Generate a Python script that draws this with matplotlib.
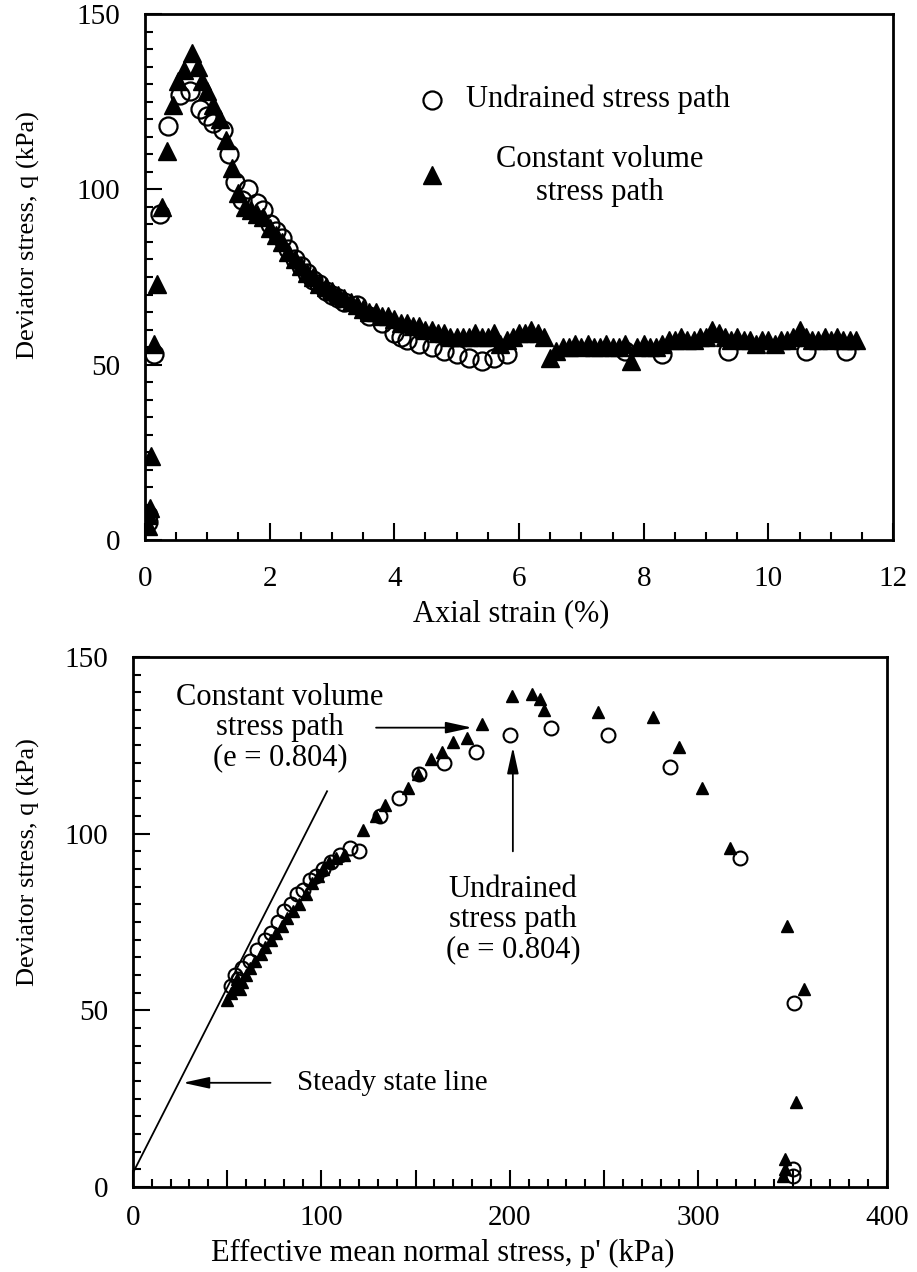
import matplotlib
matplotlib.use("Agg")
import matplotlib.pyplot as plt
from matplotlib.ticker import MultipleLocator, FuncFormatter

plt.rcParams['font.family'] = ['Liberation Serif', 'DejaVu Serif']

# --- top: q vs axial strain ---
eps_cv = [0.05, 0.05, 0.08, 0.1, 0.15, 0.2, 0.27, 0.35, 0.45, 0.53, 0.62, 0.75, 0.85, 0.92,
          1.0, 1.1, 1.2, 1.3, 1.4, 1.5, 1.6, 1.7, 1.8, 1.9, 2.0, 2.1, 2.2, 2.3, 2.4, 2.5,
          2.6, 2.7, 2.8, 2.9, 3.0, 3.1, 3.2, 3.3, 3.4, 3.5, 3.6, 3.7, 3.8, 3.9, 4.0, 4.1,
          4.2, 4.3, 4.4, 4.5, 4.6, 4.7, 4.8, 4.9, 5.0, 5.1, 5.2, 5.3, 5.4, 5.5, 5.6, 5.7,
          5.8, 5.9, 6.0, 6.1, 6.2, 6.3, 6.4, 6.5, 6.6, 6.7, 6.8, 6.9, 7.0, 7.1, 7.2, 7.3,
          7.4, 7.5, 7.6, 7.7, 7.8, 7.9, 8.0, 8.1, 8.2, 8.3, 8.4, 8.5, 8.6, 8.7, 8.8, 8.9,
          9.0, 9.1, 9.2, 9.3, 9.4, 9.5, 9.6, 9.7, 9.8, 9.9, 10.0, 10.1, 10.2, 10.3, 10.4,
          10.5, 10.6, 10.7, 10.8, 10.9, 11.0, 11.1, 11.2, 11.3, 11.4]
q_cv = [4, 7, 9, 24, 56, 73, 95, 111, 124, 131, 134, 139, 135, 131,
        128, 124, 120, 114, 106, 99, 95, 94, 93, 92, 89, 87, 85, 82, 80, 78,
        76, 75, 73, 72, 71, 70, 69, 68, 67, 66, 65, 65, 64, 64, 63, 62,
        62, 61, 61, 60, 60, 59, 59, 58, 58, 58, 58, 59, 58, 58, 59, 56,
        57, 58, 59, 59, 60, 59, 58, 52, 54, 55, 55, 56, 55, 56, 55, 55,
        56, 55, 55, 56, 51, 55, 56, 55, 55, 56, 57, 57, 58, 57, 57, 58,
        58, 60, 59, 58, 57, 58, 57, 57, 56, 57, 57, 56, 57, 57, 58,
        60, 58, 57, 57, 58, 57, 58, 57, 57, 57]

eps_ud = [0.05, 0.05, 0.15, 0.25, 0.37, 0.56, 0.72, 0.88, 1.0, 1.1, 1.25, 1.35, 1.45, 1.55,
          1.65, 1.8, 1.9, 2.0, 2.1, 2.2, 2.3, 2.4, 2.5, 2.6, 2.7, 2.8, 2.9, 3.0, 3.1, 3.2,
          3.4, 3.6, 3.8, 4.0, 4.1, 4.2, 4.4, 4.6, 4.8, 5.0, 5.2, 5.4, 5.6, 5.8, 7.7, 8.3,
          9.35, 10.6, 11.25]
q_ud = [5, 7, 53, 93, 118, 127, 128, 123, 121, 119, 117, 110, 102, 97,
        100, 96, 94, 90, 88, 86, 83, 80, 78, 76, 74, 73, 71, 70, 69, 68,
        67, 64, 62, 59, 58, 57, 56, 55, 54, 53, 52, 51, 52, 53, 54, 53,
        54, 54, 54]

# --- bottom: q vs p' ---
p_cv = [50, 52, 54, 55, 57, 58, 60, 62, 65, 68, 70, 73, 76, 79, 82, 85, 88, 92, 95, 98,
        101, 104, 108, 112, 122, 129, 134, 146, 151, 158, 164, 170, 177, 185, 201, 212,
        216, 218, 247, 276, 290, 302, 317, 347, 356, 352, 346, 346, 345]
q_cv2 = [53, 55, 57, 59, 56, 58, 60, 62, 64, 66, 68, 70, 72, 74, 76, 78, 80, 83, 86, 88,
         90, 92, 93, 94, 101, 105, 108, 113, 117, 121, 123, 126, 127, 131, 139, 139.5,
         138, 135, 134.5, 133, 124.5, 113, 96, 74, 56, 24, 8, 5, 3]

p_ud = [52, 54, 56, 58, 62, 66, 70, 73, 77, 80, 84, 87, 90, 94, 97, 101, 105, 110, 115,
        120, 131, 141, 152, 165, 182, 200, 222, 252, 285, 322, 351, 350, 350]
q_ud2 = [57, 60, 59, 62, 64, 67, 70, 72, 75, 78, 80, 83, 84, 87, 88, 90, 92, 94, 96,
         95, 105, 110, 117, 120, 123, 128, 130, 128, 119, 93, 52, 5, 3]

ssl_p = [0, 103]
ssl_q = [4, 112]

fig = plt.figure(figsize=(9.17, 12.72), dpi=100)
ax1 = fig.add_axes([0.158, 0.5755, 0.816, 0.4135])
ax2 = fig.add_axes([0.145, 0.0668, 0.822, 0.4167])

ax1.plot(eps_cv, q_cv, '^', ms=13, color='black', ls='none')
ax1.plot(eps_ud, q_ud, 'o', ms=13, mfc='none', mec='black', mew=1.6, ls='none')
ax1.set_xlim(0, 12)
ax1.set_ylim(0, 150)
ax1.xaxis.set_major_locator(MultipleLocator(2))
ax1.xaxis.set_minor_locator(MultipleLocator(0.5))
ax1.yaxis.set_major_locator(MultipleLocator(50))
ax1.yaxis.set_minor_locator(MultipleLocator(5))
ax1.set_xlabel('Axial strain (%)', fontsize=22)
ax1.set_ylabel('Deviator stress, q (kPa)', fontsize=19)
ax1.xaxis.set_label_coords(0.49, -0.112)
ax1.yaxis.set_label_coords(-0.14, 0.58)

# legend
ax1.plot([0.384], [0.837], 'o', ms=13, mfc='none', mec='black', mew=1.6, transform=ax1.transAxes)
ax1.plot([0.384], [0.694], '^', ms=13, color='black', transform=ax1.transAxes)
ax1.text(0.429, 0.837, 'Undrained stress path', fontsize=22, va='center', ha='left',
         transform=ax1.transAxes)
ax1.text(0.608, 0.692, 'Constant volume\nstress path', fontsize=22, va='center', ha='center',
         multialignment='center', transform=ax1.transAxes)

ax2.plot(ssl_p, ssl_q, color='black', lw=1.3)
ax2.plot(p_cv, q_cv2, '^', ms=9, color='black', ls='none')
ax2.plot(p_ud, q_ud2, 'o', ms=10, mfc='none', mec='black', mew=1.5, ls='none')
ax2.set_xlim(0, 400)
ax2.set_ylim(0, 150)
ax2.xaxis.set_major_locator(MultipleLocator(50))
ax2.xaxis.set_minor_locator(MultipleLocator(10))
ax2.xaxis.set_major_formatter(FuncFormatter(lambda v, pos: '%d' % v if v % 100 == 0 else ''))
ax2.yaxis.set_major_locator(MultipleLocator(50))
ax2.yaxis.set_minor_locator(MultipleLocator(5))
ax2.set_xlabel("Effective mean normal stress, p' (kPa)", fontsize=22)
ax2.set_ylabel('Deviator stress, q (kPa)', fontsize=19)
ax2.xaxis.set_label_coords(0.411, -0.097)
ax2.yaxis.set_label_coords(-0.123, 0.613)

arrow = dict(arrowstyle='-|>,head_length=1.6,head_width=0.35', color='black', lw=1.3,
             shrinkA=0, shrinkB=0)
ax2.annotate('', xy=(180, 130), xytext=(129, 130), arrowprops=arrow)
ax2.annotate('', xy=(201.6, 124.5), xytext=(201.6, 95), arrowprops=arrow)
ax2.annotate('', xy=(26.5, 29.5), xytext=(73, 29.5), arrowprops=arrow)
ax2.text(78, 130, 'Constant volume\nstress path\n(e = 0.804)', fontsize=22, ha='center',
         va='center', multialignment='center', linespacing=1.05)
ax2.text(201.6, 75.6, 'Undrained\nstress path\n(e = 0.804)', fontsize=22, ha='center',
         va='center', multialignment='center', linespacing=1.05)
ax2.text(87, 29.5, 'Steady state line', fontsize=21, ha='left', va='center')

for ax in (ax1, ax2):
    for s in ax.spines.values():
        s.set_linewidth(2)
    ax.tick_params(which='both', direction='in', top=False, right=False, labelsize=21, width=1.5)
    ax.tick_params(which='major', length=12)
    ax.tick_params(which='minor', length=6)
    ax.tick_params(axis='y', pad=18)
ax1.tick_params(axis='x', pad=19)
ax2.tick_params(axis='x', pad=13)

fig.savefig('out.png', dpi=100)
